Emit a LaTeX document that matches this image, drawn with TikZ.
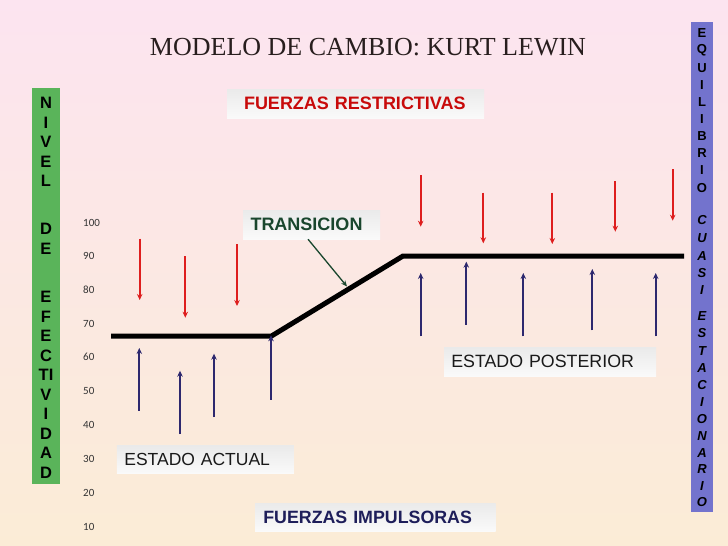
\documentclass[tikz,border=0pt]{standalone}
\usepackage{fontspec}
\setmainfont{Liberation Sans}
\newfontfamily\titlefont{Liberation Serif}
\newfontfamily\numfont{Carlito}
\usetikzlibrary{arrows.meta}
\definecolor{bgtop}{RGB}{252,228,240}
\definecolor{bgbot}{RGB}{251,236,214}
\definecolor{greenbar}{RGB}{90,180,90}
\definecolor{bluebar}{RGB}{115,115,205}
\definecolor{forcered}{RGB}{222,30,30}
\definecolor{forceblue}{RGB}{45,40,110}
\definecolor{restred}{RGB}{200,10,10}
\definecolor{transgreen}{RGB}{25,70,45}
\definecolor{impnavy}{RGB}{30,30,90}
\definecolor{titlecol}{RGB}{40,30,30}
\definecolor{boxtop}{RGB}{234,234,234}
\definecolor{boxbot}{RGB}{250,250,250}
\begin{document}
\begin{tikzpicture}[x=1pt,y=-1pt,
  tbox/.style={top color=boxtop, bottom color=boxbot, inner ysep=0pt, minimum height=29pt, align=left},
  redarr/.style={draw=forcered, line width=2pt, -{Stealth[length=6pt,width=5.5pt]}},
  bluearr/.style={draw=forceblue, line width=2pt, -{Stealth[length=6pt,width=5.5pt]}},
  lcol/.style={font=\fontsize{16.5}{16.5}\selectfont\bfseries, inner sep=0pt},
  rcol/.style={font=\fontsize{13}{13}\selectfont\bfseries, inner sep=0pt},
  rcoli/.style={font=\fontsize{13}{13}\selectfont\bfseries\itshape, inner sep=0pt},
  numlab/.style={font=\fontsize{11}{11}\selectfont\numfont, text=black!80, anchor=west, inner sep=0pt}]
\useasboundingbox (0,0) rectangle (728,546);
\shade[top color=bgtop, bottom color=bgbot] (0,0) rectangle (728,546);

% title
\node[font=\fontsize{26}{26}\selectfont\titlefont, text=titlecol] (title) at (368,47) {MODELO DE CAMBIO: KURT LEWIN};

% left bar
\fill[greenbar] (32,88) rectangle (60,484);
\foreach \t/\y [count=\i] in {N/103,I/122.5,V/142,E/161.5,L/181,D/229,E/248.5,E/297,F/316.5,E/336,C/355.5,TI/375,V/394.5,I/414,D/433.5,A/453,D/472.5}
  \node[lcol] (l\i) at (46,\y) {\t};

% right bar
\fill[bluebar] (691,22) rectangle (713,512);
\foreach \t/\y [count=\i] in {E/33,Q/50.5,U/67.7,I/84.8,L/102,I/119,B/136,R/153,I/170.5,O/187.6}
  \node[rcol] (r\i) at (702,\y) {\t};
\foreach \t/\y [count=\i] in {C/220,U/238,A/256,S/273,I/290,E/316,S/333,T/351,A/368,C/385,I/402.5,O/419,N/436,A/453,R/469,I/486,O/502}
  \node[rcoli] (ri\i) at (702,\y) {\t};

% axis numbers
\foreach \v/\y in {100/223,90/256,80/289.5,70/323.5,60/357,50/391,40/425,30/459,20/492.5,10/526.5}
  \node[numlab] (n\v) at (83,\y) {\v};

% text boxes
\node[tbox, minimum width=257pt, inner xsep=17pt, text width=223pt, font=\fontsize{18}{18}\selectfont\bfseries, text=restred] (restr) at (355.5,103.5) {FUERZAS RESTRICTIVAS};
\node[tbox, inner xsep=7.5pt, text width=122pt, font=\fontsize{18}{18}\selectfont\bfseries, text=transgreen] (trans) at (311.5,224.5) {TRANSICION};
\node[tbox, minimum height=28pt, inner xsep=7.6pt, text width=161.8pt, font=\fontsize{17.5}{17.5}\selectfont, text=black!90] (actual) at (205.3,459.7) {ESTADO ACTUAL};
\node[tbox, inner xsep=7.3pt, text width=197.4pt, font=\fontsize{17.8}{17.8}\selectfont, text=black!90] (poster) at (550,361.7) {ESTADO POSTERIOR};
\node[tbox, minimum height=28.3pt, inner xsep=8.3pt, text width=224pt, font=\fontsize{17.8}{17.8}\selectfont\bfseries, text=impnavy] (impul) at (375.3,517.2) {FUERZAS IMPULSORAS};

% state line
\coordinate (p1) at (111,336);
\coordinate (p2) at (271.5,336);
\coordinate (p3) at (403,256);
\coordinate (p4) at (684,256);
\draw[line width=5pt] (p1) -- (p2) -- (p3) -- (p4);

% transition pointer
\coordinate (tp) at (347,286.5);
\draw[transgreen, line width=1.3pt, -{Stealth[length=6pt,width=5pt]}] ([xshift=-3.5pt]trans.south) -- (tp);

% restrictive forces (down)
\foreach \x/\a/\b in {139.7/238.7/300,185.3/256/317.7,237/244/306,420.7/175/226.7,483.3/192.7/243.3,552.3/192.7/244,615.3/181/231.7,672.7/169.3/220.7}
  \draw[redarr] (\x,\a) -- (\x,\b);

% driving forces (up)
\foreach \x/\a/\b in {139.3/410.7/348,180/434/370.7,214/417/353.7,271/399.7/335.3,420.7/336.3/273,466.3/324.7/261.7,523.3/336.3/273,592.3/330.3/269,655.7/336.3/273}
  \draw[bluearr] (\x,\a) -- (\x,\b);
\end{tikzpicture}
\end{document}
